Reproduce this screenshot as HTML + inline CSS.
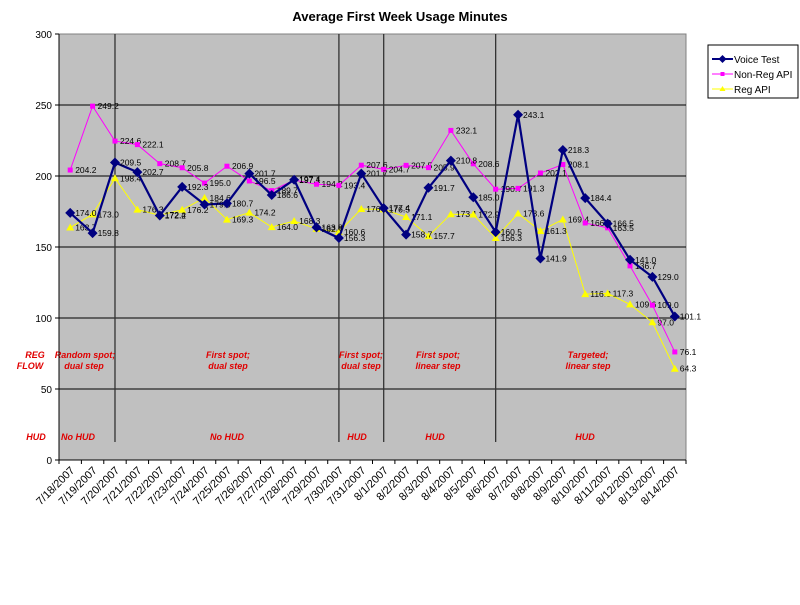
<!DOCTYPE html>
<html><head><meta charset="utf-8"><style>
body{margin:0;background:#fff;}
svg text{font-family:"Liberation Sans",Arial,sans-serif;}
</style></head><body>
<svg width="800" height="600" xmlns="http://www.w3.org/2000/svg" id="chart">
<text x="400" y="21" text-anchor="middle" font-size="13" font-weight="bold">Average First Week Usage Minutes</text>
<rect x="59" y="34" width="627" height="426" fill="#c0c0c0" stroke="#808080"/>
<g id="grid"></g><g id="annot"></g><g id="series"></g><g id="axes"></g>
<g>
<rect x="708" y="45" width="90" height="53" fill="#fff" stroke="#000"/>
<line x1="712" y1="59" x2="733" y2="59" stroke="#000080" stroke-width="2"/><path d="M722.5 55 L726.5 59 L722.5 63 L718.5 59Z" fill="#000080"/>
<text x="734" y="63" font-size="10">Voice Test</text>
<line x1="712" y1="74" x2="733" y2="74" stroke="#ff00ff"/><rect x="720.5" y="72" width="4" height="4" fill="#ff00ff"/>
<text x="734" y="78" font-size="10">Non-Reg API</text>
<line x1="712" y1="89" x2="733" y2="89" stroke="#ffff00"/><path d="M722.5 86 L725.5 91 L719.5 91Z" fill="#ffff00"/>
<text x="734" y="93" font-size="10">Reg API</text>
</g>
</svg>
<script>
const dates=["7/18/2007","7/19/2007","7/20/2007","7/21/2007","7/22/2007","7/23/2007","7/24/2007","7/25/2007","7/26/2007","7/27/2007","7/28/2007","7/29/2007","7/30/2007","7/31/2007","8/1/2007","8/2/2007","8/3/2007","8/4/2007","8/5/2007","8/6/2007","8/7/2007","8/8/2007","8/9/2007","8/10/2007","8/11/2007","8/12/2007","8/13/2007","8/14/2007"];
const voiceTest=[174.0,159.8,209.5,202.7,172.2,192.3,179.9,180.7,201.7,186.6,197.4,163.8,156.3,201.7,177.4,158.7,191.7,210.8,185.0,160.5,243.1,141.9,218.3,184.4,166.5,141.0,129.0,101.1];
const nonRegApi=[204.2,249.2,224.6,222.1,208.7,205.8,195.0,206.9,196.5,189.7,197.1,194.2,193.4,207.6,204.7,207.5,205.9,232.1,208.6,190.7,191.3,202.1,208.1,166.9,163.5,136.7,109.0,76.1];
const regApi=[163.7,173.0,198.4,176.3,172.4,176.2,184.6,169.3,174.2,164.0,168.3,162.8,160.6,176.8,176.5,171.1,157.7,173.1,172.9,156.3,173.6,161.3,169.4,116.8,117.3,109.6,97.0,64.3];
const yTicks=[0,50,100,150,200,250,300];
const dividerIdx=[2,12,14,19];
const NS="http://www.w3.org/2000/svg";
const X0=59,X1=686,Y0=460,Y1=34,YMAX=300;
const bw=(X1-X0)/dates.length;
function xs(i){return X0+bw*(i+0.5);}
function ys(v){return Y0-(v/YMAX)*(Y0-Y1);}
function mk(tag,attrs,parent,txt){const e=document.createElementNS(NS,tag);for(const k in attrs)e.setAttribute(k,attrs[k]);if(txt!==undefined)e.textContent=txt;parent.appendChild(e);return e;}
const grid=document.getElementById('grid'),axes=document.getElementById('axes'),ser=document.getElementById('series'),ann=document.getElementById('annot');
yTicks.forEach(t=>{
  if(t>0&&t<YMAX){const l=mk('line',{x1:X0,x2:X1,y1:ys(t),y2:ys(t),stroke:'#000','stroke-width':1},grid);
  
  }
  const tx=mk('text',{x:X0-7,y:ys(t)+4,'text-anchor':'end','font-size':10},axes,String(t));
  
  
  mk('line',{x1:X0-4,x2:X0,y1:ys(t),y2:ys(t),stroke:'#000'},axes);
});
mk('line',{x1:X0,x2:X0,y1:Y1,y2:Y0,stroke:'#000'},axes);
mk('line',{x1:X0,x2:X1,y1:Y0,y2:Y0,stroke:'#000'},axes);
for(let i=0;i<=dates.length;i++)mk('line',{x1:X0+bw*i,x2:X0+bw*i,y1:Y0,y2:Y0+4,stroke:'#000'},axes);
dates.forEach((d,i)=>{
  const x=xs(i)+5,y=Y0+11;
  const t=mk('text',{x:x,y:y,'text-anchor':'end','font-size':11,transform:`rotate(-45 ${x} ${y})`},axes,d);
  
  
});
dividerIdx.forEach(i=>{
  const l=mk('line',{x1:xs(i),x2:xs(i),y1:Y1,y2:442,stroke:'#333','stroke-width':1.3},grid);
  
  
});
const notes=[[35,358,"REG"],[30,369,"FLOW"],[85,358,"Random spot;"],[84,369,"dual step"],[228,358,"First spot;"],[228,369,"dual step"],[361,358,"First spot;"],[361,369,"dual step"],[438,358,"First spot;"],[438,369,"linear step"],[588,358,"Targeted;"],[588,369,"linear step"],[36,440,"HUD"],[78,440,"No HUD"],[227,440,"No HUD"],[357,440,"HUD"],[435,440,"HUD"],[585,440,"HUD"]];
notes.forEach(n=>{
  const t=mk('text',{x:n[0],y:n[1],'text-anchor':'middle','font-size':9,'font-weight':'bold','font-style':'italic',fill:'#e00000'},ann,n[2]);
  
  
});
function drawSeries(vals,color,w,shape,name){
  const g=mk('g',{},ser);
  
  
  mk('polyline',{points:vals.map((v,i)=>xs(i)+','+ys(v)).join(' '),fill:'none',stroke:color,'stroke-width':w},g);
  vals.forEach((v,i)=>{
    const x=xs(i),y=ys(v);let m;
    if(shape==='diamond')m=mk('path',{d:`M${x} ${y-5}L${x+5} ${y}L${x} ${y+5}L${x-5} ${y}Z`,fill:color},g);
    else if(shape==='square')m=mk('rect',{x:x-2.5,y:y-2.5,width:5,height:5,fill:color},g);
    else m=mk('path',{d:`M${x} ${y-4}L${x+4} ${y+3}L${x-4} ${y+3}Z`,fill:color},g);
    
    
    const t=mk('text',{x:x+5,y:y+3,'font-size':8.5},g,v.toFixed(1));
    
    
  });
}
drawSeries(regApi,'#ffff00',1,'tri','reg-api-series');
drawSeries(nonRegApi,'#ff00ff',1,'square','non-reg-api-series');
drawSeries(voiceTest,'#000080',2.2,'diamond','voice-test-series');
</script>
</body></html>
